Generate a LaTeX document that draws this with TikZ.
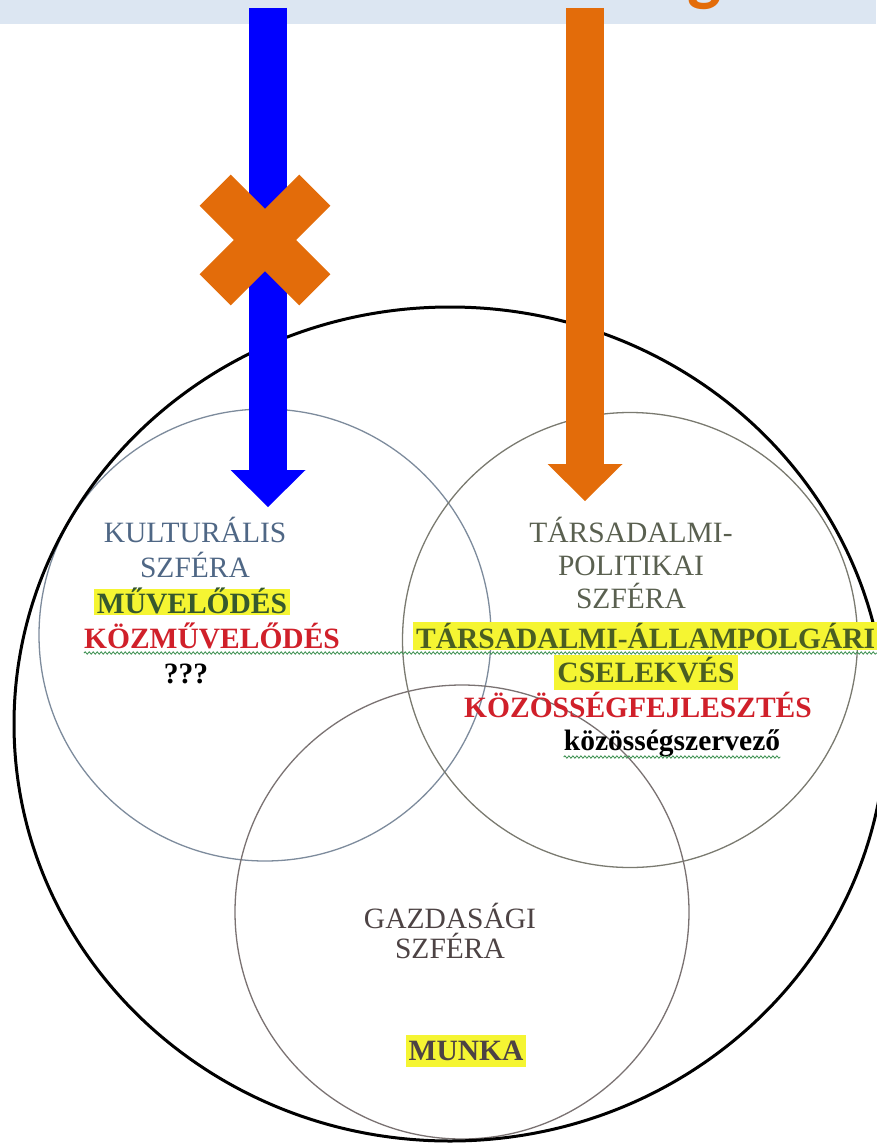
\documentclass[tikz,border=0pt]{standalone}
\usepackage{fontspec}
\setmainfont{Liberation Serif}
\newfontfamily\titlefont{Carlito}
\usetikzlibrary{arrows.meta, shapes.geometric, decorations.pathmorphing, positioning}

\definecolor{bandblue}{HTML}{DCE6F2}
\definecolor{arrowblue}{HTML}{0000FF}
\definecolor{arroworange}{HTML}{E36C0A}
\definecolor{hlyellow}{RGB}{245,245,50}
\definecolor{kultline}{HTML}{7D8B9C}
\definecolor{tarsline}{HTML}{7A7A70}
\definecolor{gazdline}{HTML}{7A7272}
\definecolor{kulttext}{HTML}{4F6785}
\definecolor{tarstext}{HTML}{5A6050}
\definecolor{gazdtext}{HTML}{4D4344}
\definecolor{olivetext}{HTML}{4A5E22}
\definecolor{greentext}{HTML}{36582E}
\definecolor{redtext}{HTML}{D0202A}
\definecolor{squiggle}{HTML}{3C9050}

\begin{document}
\begin{tikzpicture}[
    x=1pt, y=-1pt,
    sphere/.style={circle, draw=#1, line width=1.3pt, inner sep=0pt},
    world/.style={ellipse, draw=black, line width=3pt, inner sep=0pt,
                  minimum width=872pt, minimum height=834pt},
    fatarrow/.style={line width=38pt, draw=#1,
                     -{Triangle[length=37pt, width=75pt, line width=0pt, fill=#1]}},
    crossbar/.style={rectangle, fill=arroworange, minimum width=141pt,
                     minimum height=44pt, inner sep=0pt},
    spheretext/.style={font=\fontsize{29.5}{35}\selectfont, inner sep=0pt,
                       anchor=base, align=center},
    boldtext/.style={font=\bfseries\fontsize{29.5}{35}\selectfont, inner sep=0pt,
                     anchor=base},
    hl/.style={boldtext, fill=hlyellow, inner xsep=3pt, inner ysep=0pt,
               text height=24pt, text depth=2pt},
    squiggly/.style={draw=squiggle, line width=0.8pt,
                     decorate, decoration={snake, amplitude=1.2pt, segment length=4pt}}
]
\useasboundingbox (0,0) rectangle (876,1145);

% title band
\fill[bandblue] (0,0) rectangle (876,24);
\node[font=\titlefont\bfseries\fontsize{72}{72}\selectfont, text=arroworange,
      anchor=base, inner sep=0pt] (titlefrag) at (705,-2) {g};

% spheres
\node[sphere=kultline, minimum size=452pt] (kult) at (265,635) {};
\node[sphere=tarsline, minimum size=455pt] (tars) at (630,640) {};
\node[sphere=gazdline, minimum size=454pt] (gazd) at (462,912) {};
\node[world] (society) at (450,724) {};

% cultural sphere (base = last line)
\node[spheretext, text=kulttext] (kultname) at (195,577) {KULTURÁLIS\\SZFÉRA};
\node[hl, text=greentext] (muvelodes) at (192,613) {MŰVELŐDÉS};
\node[boldtext, text=redtext] (kozmuvelodes) at (212,648) {KÖZMŰVELŐDÉS};
\node[boldtext] (qmarks) at (186,683) {???};

% social-political sphere
\node[spheretext, text=tarstext, font=\fontsize{29.5}{33}\selectfont]
    (tarsname) at (631,608) {TÁRSADALMI-\\POLITIKAI\\SZFÉRA};
\node[hl, text=olivetext, anchor=base west, text height=26pt]
    (allampolgari) at (413,648) {TÁRSADALMI-ÁLLAMPOLGÁRI};
\node[hl, text=olivetext, text height=27pt, text depth=8pt]
    (cselekves) at (646,682) {CSELEKVÉS};
\node[boldtext, text=redtext] (kozfejl) at (638,717) {KÖZÖSSÉGFEJLESZTÉS};
\node[boldtext] (szervezo) at (672,750) {közösségszervező};

% economic sphere
\node[spheretext, text=gazdtext, font=\fontsize{29.5}{30}\selectfont]
    (gazdname) at (450,958) {GAZDASÁGI\\SZFÉRA};
\node[hl, text=gazdtext, text height=25pt, text depth=7pt]
    (munka) at (466,1060) {MUNKA};

% spell-check lines
\draw[squiggly] ([yshift=-5pt]kozmuvelodes.base west) -- ([yshift=-5pt]allampolgari.base east);
\draw[squiggly] ([yshift=-7pt]szervezo.base west) -- ([yshift=-7pt]szervezo.base east);

% arrows
\coordinate (kultsrc) at (268,8);
\coordinate (kulttip) at (268,507);
\coordinate (tarssrc) at (585,8);
\coordinate (tarstip) at (585,501);
\draw[fatarrow=arrowblue] (kultsrc) -- (kulttip);
\draw[fatarrow=arroworange] (tarssrc) -- (tarstip);

% crossed out
\node[crossbar, rotate=45] (nocrossa) at (265,240) {};
\node[crossbar, rotate=-45] (nocrossb) at (265,240) {};

\end{tikzpicture}
\end{document}
